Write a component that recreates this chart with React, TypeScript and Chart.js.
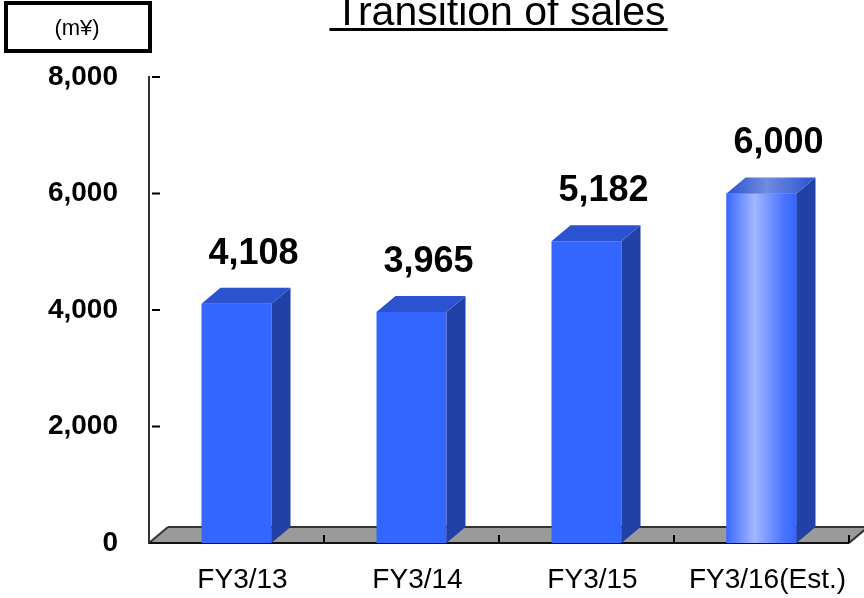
import React, { useEffect, useRef } from "react";
import { Chart, registerables } from "chart.js";

Chart.register(...registerables);

const categories = ["FY3/13", "FY3/14", "FY3/15", "FY3/16(Est.)"];
const sales = [4108, 3965, 5182, 6000];
const yMin = 0;
const yMax = 8000;
const yStep = 2000;
const titleText = "Transition of sales";
const unitText = "(m¥)";

const FONT = '"Liberation Sans", Arial, sans-serif';
const DX = 19;
const DY = 16;
const FRONT = "#3366ff";
const TOP = "#2b52cf";
const SIDE = "#2241a6";

const fmt = (v: number) => v.toLocaleString("en-US");

const threeD = {
  id: "threeD",
  beforeDatasetsDraw(chart: any) {
    const { ctx, chartArea } = chart;
    const y0 = chart.scales.y.getPixelForValue(0);
    const l = chartArea.left;
    const r = chartArea.right;
    ctx.save();
    // floor
    ctx.beginPath();
    ctx.moveTo(l, y0);
    ctx.lineTo(r, y0);
    ctx.lineTo(r + DX, y0 - DY);
    ctx.lineTo(l + DX, y0 - DY);
    ctx.closePath();
    ctx.fillStyle = "#9a9a9a";
    ctx.fill();
    ctx.strokeStyle = "#333";
    ctx.lineWidth = 2;
    ctx.beginPath();
    ctx.moveTo(l + DX, y0 - DY);
    ctx.lineTo(r + DX, y0 - DY);
    ctx.moveTo(l, y0);
    ctx.lineTo(l + DX, y0 - DY);
    ctx.moveTo(r, y0);
    ctx.lineTo(r + DX, y0 - DY);
    ctx.stroke();
    ctx.strokeStyle = "#111";
    ctx.beginPath();
    ctx.moveTo(l, y0);
    ctx.lineTo(r, y0);
    ctx.stroke();
    // floor ticks at category boundaries
    const n = categories.length;
    const w = (r - l) / n;
    ctx.strokeStyle = "#000";
    ctx.lineWidth = 2;
    for (let i = 1; i <= n; i++) {
      const x = l + w * i;
      ctx.beginPath();
      ctx.moveTo(x, y0);
      ctx.lineTo(x, y0 - 8);
      ctx.stroke();
    }
    // y ticks pointing inward
    for (let v = yMin; v <= yMax; v += yStep) {
      if (v === 0) continue;
      const y = chart.scales.y.getPixelForValue(v);
      ctx.beginPath();
      ctx.moveTo(l + 3, y);
      ctx.lineTo(l + 11, y);
      ctx.stroke();
    }
    ctx.restore();
  },
  afterDatasetsDraw(chart: any) {
    const { ctx } = chart;
    const meta = chart.getDatasetMeta(0);
    ctx.save();
    meta.data.forEach((bar: any, i: number) => {
      const { x, y, base, width } = bar.getProps(["x", "y", "base", "width"], true);
      const left = x - width / 2;
      const right = x + width / 2;
      const est = categories[i].includes("Est.");
      if (est) {
        const g = ctx.createLinearGradient(left, 0, right, 0);
        g.addColorStop(0, "#3a68ff");
        g.addColorStop(0.4, "#a3b7ff");
        g.addColorStop(0.82, "#4a74ff");
        g.addColorStop(1, "#3366ff");
        ctx.fillStyle = g;
        ctx.fillRect(left, y, width, base - y);
      }
      // side
      ctx.beginPath();
      ctx.moveTo(right, y);
      ctx.lineTo(right + DX, y - DY);
      ctx.lineTo(right + DX, base - DY);
      ctx.lineTo(right, base);
      ctx.closePath();
      ctx.fillStyle = SIDE;
      ctx.fill();
      // top
      ctx.beginPath();
      ctx.moveTo(left, y);
      ctx.lineTo(left + DX, y - DY);
      ctx.lineTo(right + DX, y - DY);
      ctx.lineTo(right, y);
      ctx.closePath();
      if (est) {
        const g2 = ctx.createLinearGradient(left, 0, right + DX, 0);
        g2.addColorStop(0, "#2b52cf");
        g2.addColorStop(0.45, "#6f8ce0");
        g2.addColorStop(1, "#2b52cf");
        ctx.fillStyle = g2;
      } else {
        ctx.fillStyle = TOP;
      }
      ctx.fill();
      // value label
      ctx.fillStyle = "#000";
      ctx.font = `bold 36px ${FONT}`;
      ctx.textAlign = "center";
      ctx.textBaseline = "middle";
      ctx.fillText(fmt(sales[i]), x + DX - 2, y - 50);
    });
    ctx.restore();
  },
  afterDraw(chart: any) {
    const { ctx } = chart;
    ctx.save();
    // title
    ctx.font = `41px ${FONT}`;
    ctx.fillStyle = "#000";
    ctx.textAlign = "center";
    ctx.textBaseline = "alphabetic";
    const cx = 500;
    ctx.fillText(titleText, cx, 25);
    const tw = ctx.measureText(titleText).width;
    ctx.fillRect(cx - tw / 2 - 5, 28, tw + 7, 3);
    // unit box
    ctx.lineWidth = 4;
    ctx.strokeStyle = "#000";
    ctx.strokeRect(6, 3, 144, 48);
    ctx.font = `22px ${FONT}`;
    ctx.textBaseline = "middle";
    ctx.fillText(unitText, 77, 29);
    ctx.restore();
  },
};

export default function App() {
  const ref = useRef<HTMLCanvasElement>(null);
  useEffect(() => {
    if (!ref.current) return;
    const chart = new Chart(ref.current, {
      type: "bar",
      data: {
        labels: categories,
        datasets: [
          {
            data: sales,
            backgroundColor: FRONT,
            borderWidth: 0,
            barPercentage: 0.4,
            categoryPercentage: 1,
          },
        ],
      },
      options: {
        animation: false,
        responsive: false,
        layout: { padding: { top: 77, right: 15, left: 0, bottom: 0 } },
        plugins: { legend: { display: false }, tooltip: { enabled: false }, title: { display: false } },
        scales: {
          x: {
            grid: { display: false, drawTicks: false },
            border: { display: false },
            ticks: {
              color: "#000",
              font: { family: FONT, size: 28 },
              padding: 20,
              labelOffset: 6,
              maxRotation: 0,
              autoSkip: false,
            },
            afterFit: (s: any) => {
              s.height = 55;
            },
          },
          y: {
            min: yMin,
            max: yMax,
            grid: { display: false, drawTicks: false },
            border: { display: true, color: "#333", width: 2 },
            ticks: {
              stepSize: yStep,
              color: "#000",
              font: { family: FONT, size: 28, weight: "bold" },
              padding: 31,
              callback: (v: any) => fmt(Number(v)),
            },
            afterFit: (s: any) => {
              s.width = 149;
            },
          },
        },
      },
      plugins: [threeD],
    } as any);
    return () => chart.destroy();
  }, []);
  return (
    <div style={{ position: "absolute", left: 0, top: 0, width: 864, height: 598, background: "#fff" }}>
      <canvas ref={ref} width={864} height={598} style={{ display: "block" }} />
    </div>
  );
}
